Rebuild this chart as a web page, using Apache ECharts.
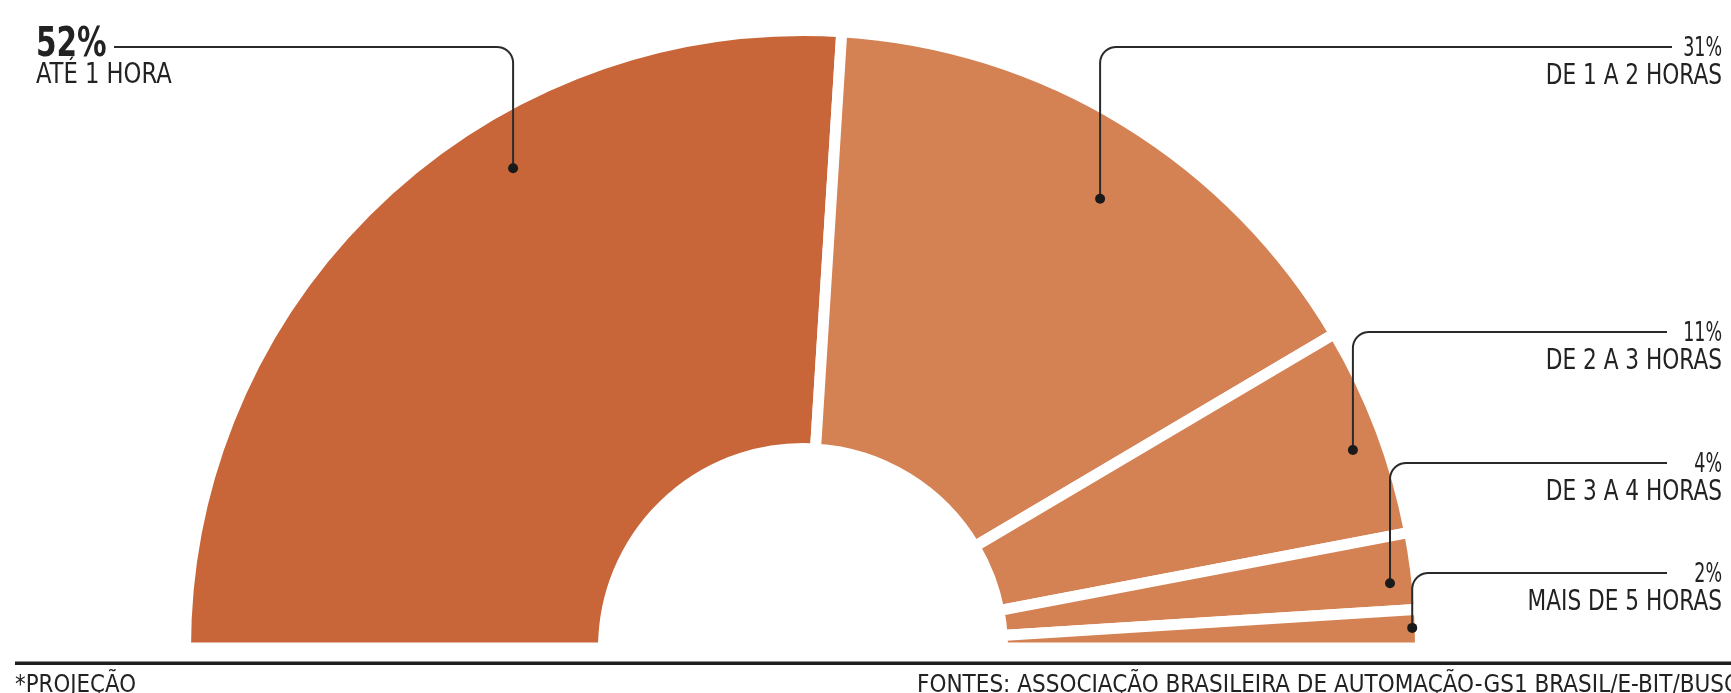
<!DOCTYPE html>
<html><head><meta charset="utf-8">
<script src="https://cdn.jsdelivr.net/npm/echarts@6/dist/echarts.min.js"></script>
<style>html,body{margin:0;padding:0;background:#fff;overflow:hidden}#c{width:1731px;height:693px;}</style>
</head><body><div id="c"></div>
<script>
// ---- data ----
const categories = ['ATÉ 1 HORA', 'DE 1 A 2 HORAS', 'DE 2 A 3 HORAS', 'DE 3 A 4 HORAS', 'MAIS DE 5 HORAS'];
const values = [52, 31, 11, 4, 2];
// label anchor (dot) inside each slice: position along the half circle (in % units) and radius fraction
const anchorPct = [32.7, 68.6, 89.0, 96.5, 98.95];
const anchorRadius = [0.916, 0.880, 0.955, 0.965, 0.996];
const footnote = '*PROJEÇÃO';
const sourceText = 'FONTES: ASSOCIAÇÃO BRASILEIRA DE AUTOMAÇÃO-GS1 BRASIL/E-BIT/BUSCAPÉ';

// ---- styles / layout ----
const sliceColors = ['#C8663A', '#D48254', '#D48254', '#D48254', '#D48254'];
const FONT = "'Liberation Sans Narrow','DejaVu Sans Condensed','Roboto Condensed',sans-serif";
const CX = 803, CY = 648, R = 612, BW = 11;
const layout = {
  side: ['left', 'right', 'right', 'right', 'right'],
  lineY: [47, 47, 332, 463, 573],
  leftEnd: 114, rightEnd: [0, 1672, 1667, 1667, 1667], textLeft: 36, textRight: 1722, corner: 16
};
const INK = '#222';

const chart = echarts.init(document.getElementById('c'), null, {renderer: 'canvas'});

function txt(text, x, y, size, weight, align, sx) {
  return {type: 'text', x: x, y: y, scaleX: sx,
    style: {text: text, x: 0, y: 0, fill: INK, fontFamily: FONT, fontSize: size,
      fontWeight: weight, align: align, verticalAlign: 'middle'}};
}

function renderLabel(params, api) {
  const i = params.dataIndex;
  const p = api.coord([api.value(0), api.value(1)]);
  const x = p[0], y = p[1];
  const ly = layout.lineY[i];
  const cr = layout.corner;
  const left = layout.side[i] === 'left';
  const pts = [[x, y], [x, ly + cr]];
  const n = 10;
  for (let k = 0; k <= n; k++) {
    const t = k / n;
    if (left) {
      const a = -t * Math.PI / 2;
      pts.push([x - cr + cr * Math.cos(a), ly + cr + cr * Math.sin(a)]);
    } else {
      const a = Math.PI + t * Math.PI / 2;
      pts.push([x + cr + cr * Math.cos(a), ly + cr + cr * Math.sin(a)]);
    }
  }
  pts.push([left ? layout.leftEnd : layout.rightEnd[i], ly]);
  const children = [
    {type: 'polyline', shape: {points: pts}, style: {stroke: '#2a2a2a', lineWidth: 2, fill: null}},
    {type: 'circle', shape: {cx: x, cy: y, r: 5}, style: {fill: '#1a1a1a'}}
  ];
  const pctTxt = values[i] + '%';
  if (left) {
    children.push(txt(pctTxt, layout.textLeft, ly - 2, 41, 'bold', 'left', 0.8));
    children.push(txt(categories[i], layout.textLeft, ly + 29, 28, 'normal', 'left', 0.9));
  } else {
    children.push(txt(pctTxt, layout.textRight, ly + 2, 27, 'normal', 'right', 0.72));
    children.push(txt(categories[i], layout.textRight, ly + 30, 28, 'normal', 'right', 0.86));
  }
  return {type: 'group', children: children};
}

chart.setOption({
  animation: false,
  backgroundColor: '#fff',
  polar: {center: [CX, CY], radius: [0, R]},
  angleAxis: {type: 'value', min: 0, max: 200, startAngle: 180, clockwise: true, show: false},
  radiusAxis: {type: 'value', min: 0, max: 1, show: false},
  series: [
    {
      type: 'pie', silent: true,
      center: [CX, CY], radius: [205 - BW / 2, R + BW / 2],
      startAngle: 180, endAngle: 0, clockwise: true,
      label: {show: false}, labelLine: {show: false},
      itemStyle: {borderColor: '#fff', borderWidth: BW},
      data: values.map((v, i) => ({name: categories[i], value: v, itemStyle: {color: sliceColors[i]}})),
      z: 1
    },
    {
      type: 'custom', coordinateSystem: 'polar', silent: true, z: 5,
      data: values.map((v, i) => [anchorRadius[i], anchorPct[i]]),
      renderItem: renderLabel
    }
  ],
  graphic: [
    {type: 'rect', shape: {x: 15, y: 661.5, width: 1716, height: 3.5}, style: {fill: '#1e1e1e'}},
    {type: 'text', x: 15, y: 673, scaleX: 0.95, style: {text: footnote, fill: INK, fontFamily: FONT, fontSize: 25}},
    {type: 'text', x: 917, y: 673, scaleX: 0.96, style: {text: sourceText, fill: INK, fontFamily: FONT, fontSize: 25}}
  ]
});
</script>
</body></html>
